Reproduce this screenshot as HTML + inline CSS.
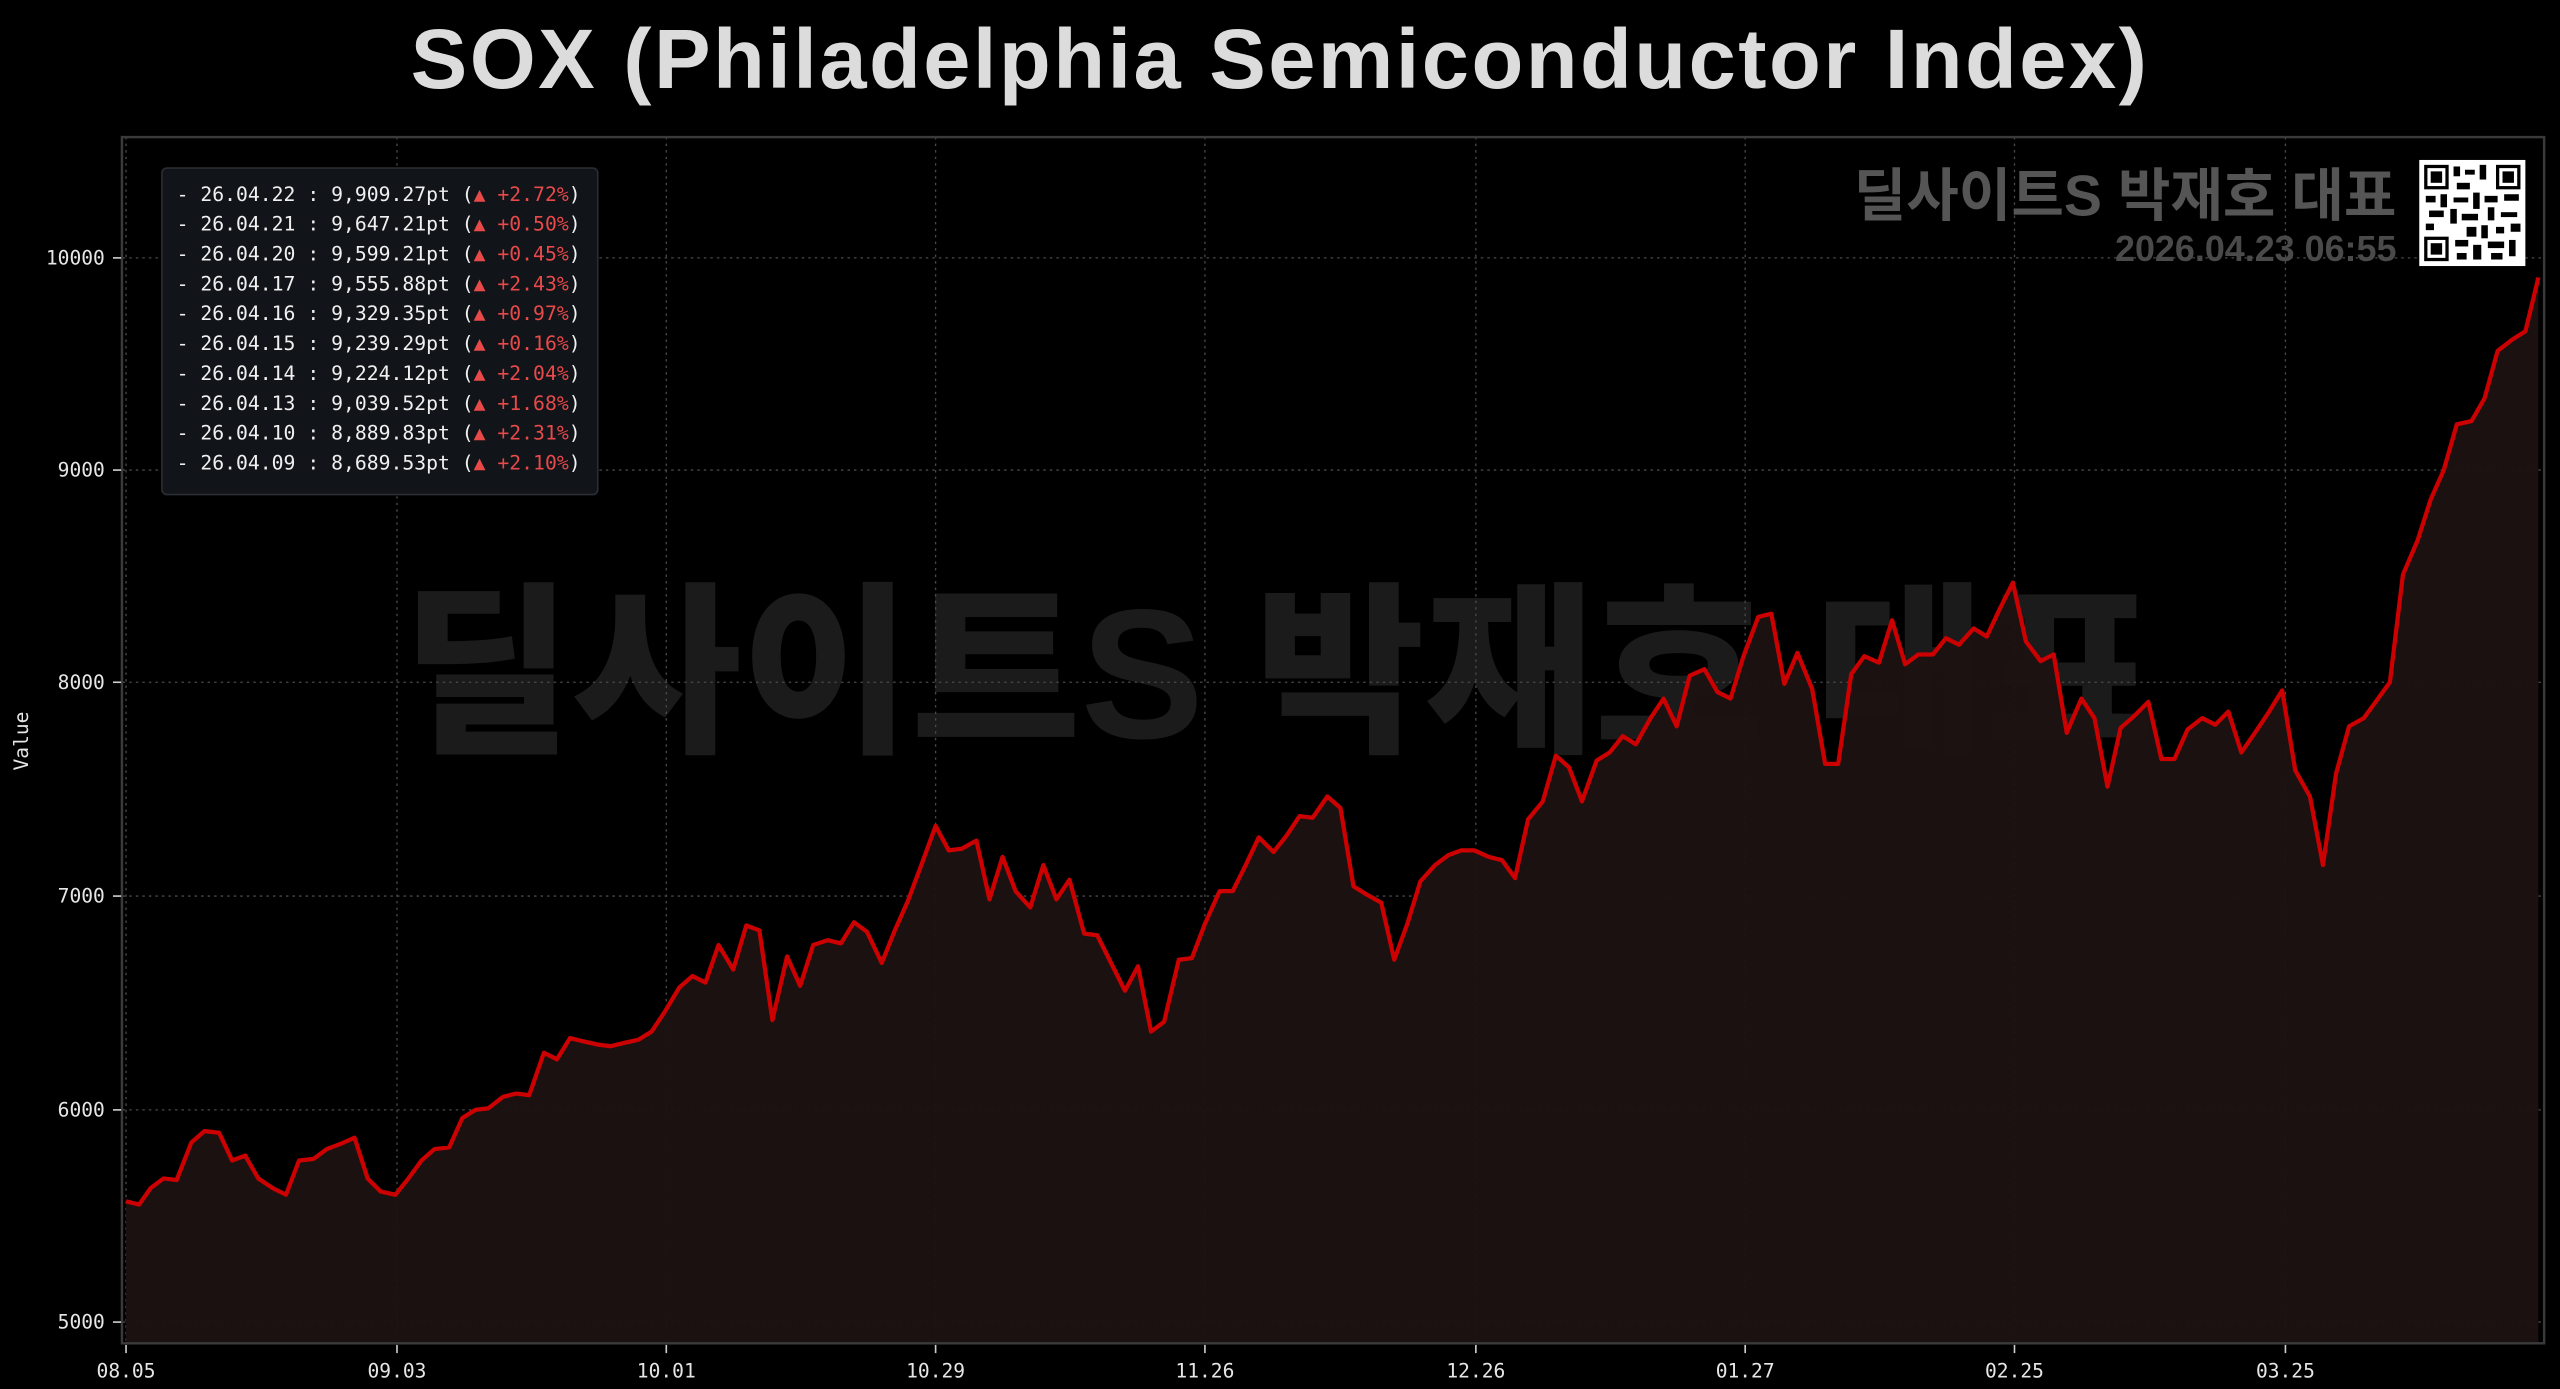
<!DOCTYPE html>
<html><head><meta charset="utf-8"><style>
html,body{margin:0;padding:0;background:#000;}
svg{display:block;}
</style></head><body>
<svg width="2560" height="1389" viewBox="0 0 1568 851" xmlns="http://www.w3.org/2000/svg">
<rect width="1568" height="851" fill="#000"/>
<text x="784" y="54" text-anchor="middle" font-family="'Liberation Sans',sans-serif" font-weight="bold" font-size="52" letter-spacing="1.5" fill="#dcdcdc">SOX (Philadelphia Semiconductor Index)</text>
<!-- watermark -->
<text x="783" y="452" text-anchor="middle" font-family="'Liberation Sans','Noto Sans CJK KR',sans-serif" font-weight="900" font-size="113" fill="#1b1b1b">딜사이트S 박재호 대표</text>
<!-- grid -->
<g stroke="#4a4a4a" stroke-width="0.8" stroke-dasharray="1.5,2.5">
<line x1="75" x2="1558" y1="158" y2="158"/><line x1="75" x2="1558" y1="288" y2="288"/><line x1="75" x2="1558" y1="418" y2="418"/><line x1="75" x2="1558" y1="549" y2="549"/><line x1="75" x2="1558" y1="680" y2="680"/><line x1="75" x2="1558" y1="810" y2="810"/>
<line y1="84" y2="823" x1="77" x2="77"/><line y1="84" y2="823" x1="243" x2="243"/><line y1="84" y2="823" x1="408" x2="408"/><line y1="84" y2="823" x1="573" x2="573"/><line y1="84" y2="823" x1="738" x2="738"/><line y1="84" y2="823" x1="904" x2="904"/><line y1="84" y2="823" x1="1069" x2="1069"/><line y1="84" y2="823" x1="1234" x2="1234"/><line y1="84" y2="823" x1="1400" x2="1400"/>
</g>
<polygon fill="#1c1212" fill-opacity="0.95" points="77,823 77,736 85,738 92,728 100,722 108,723 117,700 125,693 134,694 142,711 150,708 158,722 167,728 175,732 183,711 192,710 200,704 208,701 217,697 225,722 233,730 242,732 250,722 258,711 266,704 275,703 283,685 291,680 299,679 308,672 316,670 324,671 333,645 341,649 349,636 357,638 366,640 374,641 382,639 391,637 399,632 407,620 416,605 424,598 432,602 440,579 449,594 457,567 465,570 473,625 482,586 490,604 498,579 507,576 515,578 523,565 531,571 540,590 548,570 556,552 565,528 573,506 581,521 589,520 598,515 606,551 614,525 622,546 631,556 639,530 647,551 655,539 664,572 672,573 680,589 689,607 697,592 705,632 713,626 722,588 730,587 738,566 747,546 755,546 763,530 771,513 780,522 788,512 796,500 804,501 813,488 821,495 829,543 837,548 846,553 854,588 862,566 870,540 879,530 887,524 895,521 903,521 912,525 920,527 928,538 936,502 945,491 953,463 961,470 969,491 978,466 986,461 994,451 1002,456 1011,440 1019,428 1027,445 1035,414 1044,410 1052,424 1060,428 1068,402 1077,378 1085,376 1093,419 1101,400 1110,422 1118,468 1126,468 1134,413 1142,402 1151,406 1159,380 1167,407 1175,401 1184,401 1192,391 1200,395 1209,385 1217,390 1225,373 1233,357 1241,393 1250,405 1258,401 1266,449 1275,428 1283,440 1291,482 1299,446 1307,439 1316,430 1324,465 1332,465 1340,447 1349,440 1357,444 1365,436 1373,461 1382,448 1390,436 1398,423 1406,472 1415,488 1423,530 1431,474 1439,445 1448,440 1456,429 1464,418 1472,352 1481,331 1489,306 1497,288 1505,260 1514,258 1522,244 1530,215 1539,208 1547,203 1555,170 1555,823"/>
<polyline fill="none" stroke="#cc0000" stroke-width="2.6" stroke-linejoin="round" points="77,736 85,738 92,728 100,722 108,723 117,700 125,693 134,694 142,711 150,708 158,722 167,728 175,732 183,711 192,710 200,704 208,701 217,697 225,722 233,730 242,732 250,722 258,711 266,704 275,703 283,685 291,680 299,679 308,672 316,670 324,671 333,645 341,649 349,636 357,638 366,640 374,641 382,639 391,637 399,632 407,620 416,605 424,598 432,602 440,579 449,594 457,567 465,570 473,625 482,586 490,604 498,579 507,576 515,578 523,565 531,571 540,590 548,570 556,552 565,528 573,506 581,521 589,520 598,515 606,551 614,525 622,546 631,556 639,530 647,551 655,539 664,572 672,573 680,589 689,607 697,592 705,632 713,626 722,588 730,587 738,566 747,546 755,546 763,530 771,513 780,522 788,512 796,500 804,501 813,488 821,495 829,543 837,548 846,553 854,588 862,566 870,540 879,530 887,524 895,521 903,521 912,525 920,527 928,538 936,502 945,491 953,463 961,470 969,491 978,466 986,461 994,451 1002,456 1011,440 1019,428 1027,445 1035,414 1044,410 1052,424 1060,428 1068,402 1077,378 1085,376 1093,419 1101,400 1110,422 1118,468 1126,468 1134,413 1142,402 1151,406 1159,380 1167,407 1175,401 1184,401 1192,391 1200,395 1209,385 1217,390 1225,373 1233,357 1241,393 1250,405 1258,401 1266,449 1275,428 1283,440 1291,482 1299,446 1307,439 1316,430 1324,465 1332,465 1340,447 1349,440 1357,444 1365,436 1373,461 1382,448 1390,436 1398,423 1406,472 1415,488 1423,530 1431,474 1439,445 1448,440 1456,429 1464,418 1472,352 1481,331 1489,306 1497,288 1505,260 1514,258 1522,244 1530,215 1539,208 1547,203 1555,170"/>
<!-- frame -->
<rect x="74.5" y="84" width="1484" height="739" fill="none" stroke="#3a3a3a" stroke-width="1.5"/>
<!-- ticks -->
<g stroke="#ccc" stroke-width="1">
<line x1="69" x2="74" y1="158" y2="158"/><line x1="69" x2="74" y1="288" y2="288"/><line x1="69" x2="74" y1="418" y2="418"/><line x1="69" x2="74" y1="549" y2="549"/><line x1="69" x2="74" y1="680" y2="680"/><line x1="69" x2="74" y1="810" y2="810"/>
<line y1="824" y2="829" x1="77" x2="77"/><line y1="824" y2="829" x1="243" x2="243"/><line y1="824" y2="829" x1="408" x2="408"/><line y1="824" y2="829" x1="573" x2="573"/><line y1="824" y2="829" x1="738" x2="738"/><line y1="824" y2="829" x1="904" x2="904"/><line y1="824" y2="829" x1="1069" x2="1069"/><line y1="824" y2="829" x1="1234" x2="1234"/><line y1="824" y2="829" x1="1400" x2="1400"/>
</g>
<g font-family="'DejaVu Sans Mono','Liberation Mono',monospace" font-size="12" fill="#e6e6e6" text-anchor="end">
<text x="64" y="162">10000</text><text x="64" y="292">9000</text><text x="64" y="422">8000</text><text x="64" y="553">7000</text><text x="64" y="684">6000</text><text x="64" y="814">5000</text>
</g>
<g font-family="'DejaVu Sans Mono','Liberation Mono',monospace" font-size="12" fill="#e6e6e6" text-anchor="middle">
<text x="77" y="844">08.05</text><text x="243" y="844">09.03</text><text x="408" y="844">10.01</text><text x="573" y="844">10.29</text><text x="738" y="844">11.26</text><text x="904" y="844">12.26</text><text x="1069" y="844">01.27</text><text x="1234" y="844">02.25</text><text x="1400" y="844">03.25</text>
</g>
<text transform="translate(17,454) rotate(-90)" text-anchor="middle" font-family="'DejaVu Sans Mono','Liberation Mono',monospace" font-size="12" fill="#e6e6e6">Value</text>
<!-- legend -->
<rect x="99" y="103" width="267" height="200" rx="3" fill="#111419" stroke="#2a2d33" stroke-width="1"/>
<g font-family="'DejaVu Sans Mono','Liberation Mono',monospace" font-size="12.1" fill="#f0f0f0">
<text x="108" y="123">- 26.04.22 : 9,909.27pt (<tspan fill="#e84a4a">▲ +2.72%</tspan>)</text>
<text x="108" y="141.3">- 26.04.21 : 9,647.21pt (<tspan fill="#e84a4a">▲ +0.50%</tspan>)</text>
<text x="108" y="159.6">- 26.04.20 : 9,599.21pt (<tspan fill="#e84a4a">▲ +0.45%</tspan>)</text>
<text x="108" y="177.9">- 26.04.17 : 9,555.88pt (<tspan fill="#e84a4a">▲ +2.43%</tspan>)</text>
<text x="108" y="196.2">- 26.04.16 : 9,329.35pt (<tspan fill="#e84a4a">▲ +0.97%</tspan>)</text>
<text x="108" y="214.5">- 26.04.15 : 9,239.29pt (<tspan fill="#e84a4a">▲ +0.16%</tspan>)</text>
<text x="108" y="232.8">- 26.04.14 : 9,224.12pt (<tspan fill="#e84a4a">▲ +2.04%</tspan>)</text>
<text x="108" y="251.1">- 26.04.13 : 9,039.52pt (<tspan fill="#e84a4a">▲ +1.68%</tspan>)</text>
<text x="108" y="269.4">- 26.04.10 : 8,889.83pt (<tspan fill="#e84a4a">▲ +2.31%</tspan>)</text>
<text x="108" y="287.7">- 26.04.09 : 8,689.53pt (<tspan fill="#e84a4a">▲ +2.10%</tspan>)</text>
</g>
<!-- top right branding -->
<text x="1468" y="132" text-anchor="end" font-family="'Liberation Sans','Noto Sans CJK KR',sans-serif" font-weight="bold" font-size="35" fill="#555">딜사이트S 박재호 대표</text>
<text x="1468" y="160" text-anchor="end" font-family="'Liberation Sans',sans-serif" font-weight="bold" font-size="22" fill="#4a4a4a">2026.04.23 06:55</text>
<rect x="1482" y="98" width="65" height="65" fill="#fff"/>
<g fill="#000">
<rect x="1485" y="101" width="15" height="15"/><rect x="1529" y="101" width="15" height="15"/><rect x="1485" y="145" width="15" height="15"/>
<rect x="1503" y="102" width="4" height="6"/><rect x="1510" y="104" width="6" height="3"/><rect x="1519" y="101" width="4" height="9"/><rect x="1505" y="112" width="8" height="4"/>
<rect x="1486" y="120" width="6" height="4"/><rect x="1495" y="119" width="4" height="8"/><rect x="1503" y="121" width="9" height="3"/><rect x="1515" y="118" width="4" height="10"/><rect x="1522" y="120" width="8" height="4"/><rect x="1534" y="119" width="9" height="4"/>
<rect x="1488" y="129" width="9" height="4"/><rect x="1501" y="128" width="4" height="9"/><rect x="1508" y="131" width="10" height="4"/><rect x="1524" y="127" width="4" height="8"/><rect x="1532" y="130" width="10" height="3"/>
<rect x="1486" y="137" width="5" height="4"/><rect x="1511" y="139" width="6" height="6"/><rect x="1520" y="138" width="4" height="8"/><rect x="1529" y="139" width="5" height="4"/><rect x="1538" y="137" width="6" height="5"/>
<rect x="1504" y="147" width="8" height="4"/><rect x="1515" y="150" width="5" height="9"/><rect x="1524" y="148" width="10" height="4"/><rect x="1537" y="147" width="4" height="10"/><rect x="1505" y="155" width="6" height="4"/><rect x="1526" y="155" width="7" height="4"/>
</g>
<g fill="#fff">
<rect x="1487" y="103" width="11" height="11"/><rect x="1531" y="103" width="11" height="11"/><rect x="1487" y="147" width="11" height="11"/>
</g>
<g fill="#000">
<rect x="1489" y="105" width="7" height="7"/><rect x="1533" y="105" width="7" height="7"/><rect x="1489" y="149" width="7" height="7"/>
</g>
</svg>
</body></html>
